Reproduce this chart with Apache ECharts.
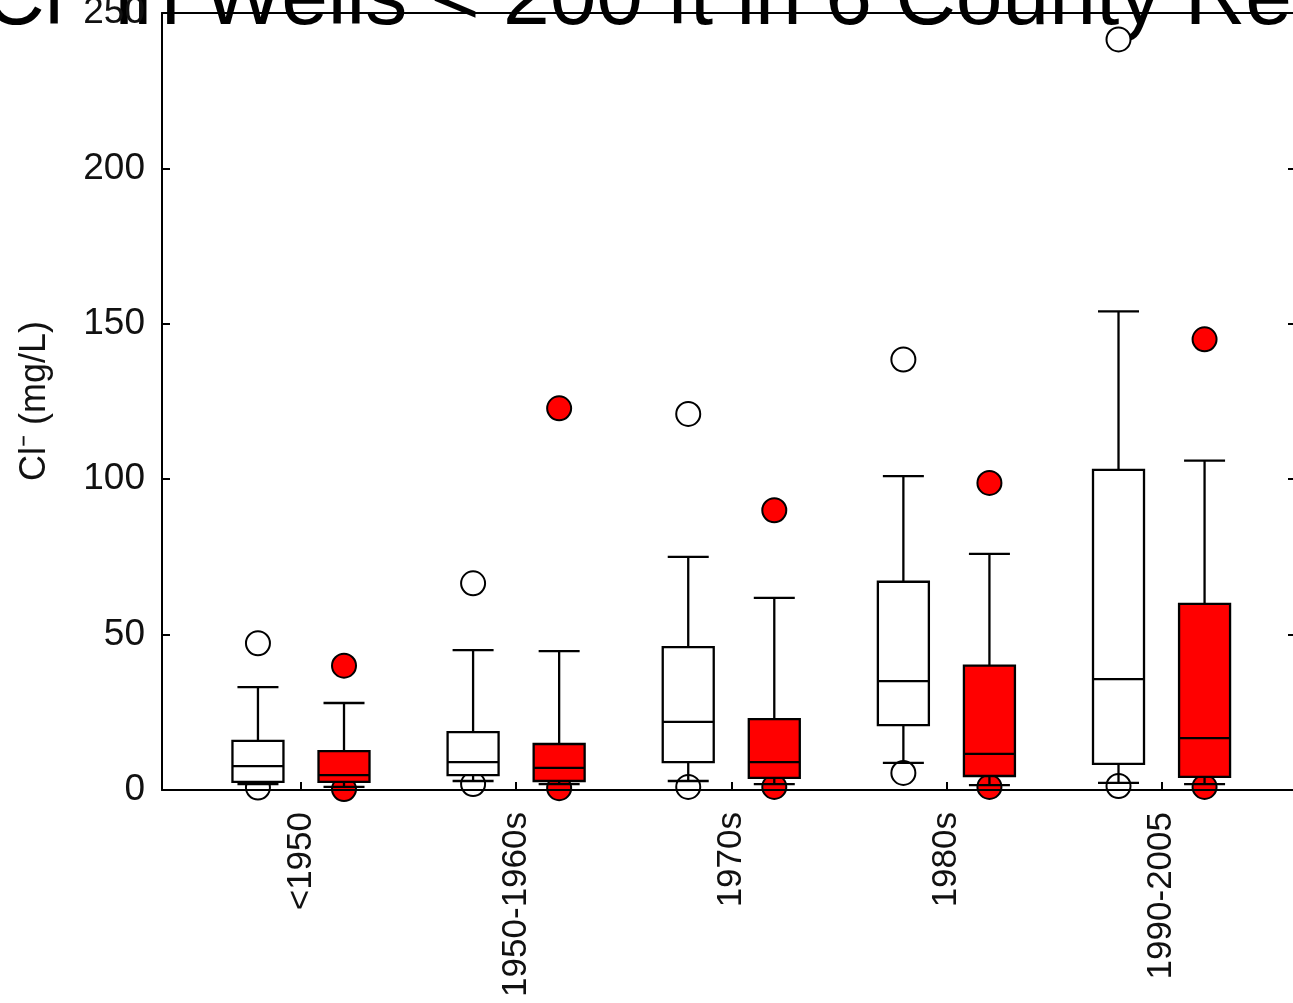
<!DOCTYPE html>
<html><head><meta charset="utf-8">
<script src="https://cdn.jsdelivr.net/npm/echarts@6/dist/echarts.min.js"></script>
<style>html,body{margin:0;padding:0;background:#fff;overflow:hidden}#c{width:1293px;height:1003px}</style>
</head><body><div id="c"></div>
<script>
const categories = ['<1950', '1950-1960s', '1970s', '1980s', '1990-2005'];
const yTicks = [0, 50, 100, 150, 200, 250];
// each box: [lower whisker, Q1, median, Q3, upper whisker]
const whiteBoxes = [
  [1.9, 2.6, 7.7, 15.8, 33.1],
  [2.9, 4.8, 9.0, 18.6, 45.0],
  [2.9, 9.0, 21.9, 46.0, 75.0],
  [8.7, 20.9, 35.0, 67.0, 101.0],
  [2.3, 8.4, 35.7, 103.0, 154.0]
];
const redBoxes = [
  [1.0, 2.6, 4.8, 12.5, 28.0],
  [1.9, 2.9, 7.1, 14.8, 44.7],
  [1.9, 3.9, 9.0, 22.8, 61.8],
  [1.6, 4.5, 11.6, 40.0, 76.0],
  [1.9, 4.2, 16.7, 59.9, 106.0]
];
const whiteOutHigh = [47.2, 66.5, 121.0, 138.5, 241.5];
const whiteOutLow = [0.8, 1.9, 1.0, 5.5, 1.3];
const redOutHigh = [40.0, 122.8, 90.0, 98.8, 145.0];
const redOutLow = [0.3, 0.6, 1.0, 1.0, 1.0];

const FONT = '"Liberation Sans", Arial, Helvetica, sans-serif';
const OFF = 0.2;
const tickPos = categories.map((c, i) => i);

function renderBox(fill) {
  return function (params, api) {
    const x = api.value(0);
    const lo = api.coord([x, api.value(1)]);
    const q1 = api.coord([x, api.value(2)]);
    const md = api.coord([x, api.value(3)]);
    const q3 = api.coord([x, api.value(4)]);
    const hi = api.coord([x, api.value(5)]);
    const cx = lo[0];
    const bw = 51, cw = 41;
    const ls = { stroke: '#000', lineWidth: 2.3 };
    return {
      type: 'group', children: [
        { type: 'line', shape: { x1: cx, y1: hi[1], x2: cx, y2: q3[1] }, style: ls },
        { type: 'line', shape: { x1: cx, y1: q1[1], x2: cx, y2: lo[1] }, style: ls },
        { type: 'line', shape: { x1: cx - cw / 2, y1: hi[1], x2: cx + cw / 2, y2: hi[1] }, style: ls },
        { type: 'line', shape: { x1: cx - cw / 2, y1: lo[1], x2: cx + cw / 2, y2: lo[1] }, style: ls },
        { type: 'rect', shape: { x: cx - bw / 2, y: q3[1], width: bw, height: q1[1] - q3[1] }, style: { fill: fill, stroke: '#000', lineWidth: 2.3 } },
        { type: 'line', shape: { x1: cx - bw / 2, y1: md[1], x2: cx + bw / 2, y2: md[1] }, style: ls }
      ]
    };
  };
}

const chart = echarts.init(document.getElementById('c'), null, { renderer: 'canvas' });
const xMin = -0.646, xMax = 4.625;
chart.setOption({
  animation: false,
  backgroundColor: '#fff',
  grid: { left: 162, top: 13, width: 1134, height: 777, containLabel: false, outerBoundsMode: 'none' },
  graphic: [
    {
      type: 'text', x: -16, y: 1, z: 0,
      style: { text: 'Cl\u207B in Wells < 200 ft in 6 County Region', fontSize: 84, fontFamily: FONT, fill: '#000', verticalAlign: 'middle', align: 'left' }
    },
    {
      type: 'text', x: 35, y: 401, rotation: Math.PI / 2, z: 0,
      style: { text: 'Cl\u207B (mg/L)', fontSize: 36, fontFamily: FONT, fill: '#111', verticalAlign: 'middle', align: 'center' }
    }
  ],
  xAxis: [
    {
      type: 'value', min: xMin, max: xMax, position: 'bottom', z: 10,
      axisLine: { show: true, onZero: false, lineStyle: { color: '#000', width: 2 } },
      splitLine: { show: false },
      axisTick: { show: true, inside: true, length: 8, customValues: tickPos, lineStyle: { color: '#000', width: 2 } },
      axisLabel: { customValues: tickPos, formatter: v => categories[Math.round(v)], rotate: 90, margin: 22, fontSize: 35, color: '#111', fontFamily: FONT }
    },
    {
      type: 'value', min: xMin, max: xMax, position: 'top', z: 10,
      axisLine: { show: true, onZero: false, lineStyle: { color: '#000', width: 2 } },
      splitLine: { show: false }, axisTick: { show: false }, axisLabel: { show: false }
    }
  ],
  yAxis: [
    {
      type: 'value', min: 0, max: 250, interval: 50, position: 'left', z: 10,
      axisLine: { show: true, onZero: false, lineStyle: { color: '#000', width: 2 } },
      splitLine: { show: false },
      axisTick: { show: true, inside: true, length: 8, lineStyle: { color: '#000', width: 2 } },
      axisLabel: { margin: 17, fontSize: 37, color: '#111', fontFamily: FONT, formatter: v => String(yTicks.includes(v) ? v : '') }
    },
    {
      type: 'value', min: 0, max: 250, interval: 50, position: 'right', z: 10,
      axisLine: { show: true, onZero: false, lineStyle: { color: '#000', width: 2 } },
      splitLine: { show: false },
      axisTick: { show: true, inside: true, length: 8, lineStyle: { color: '#000', width: 2 } },
      axisLabel: { show: false }
    }
  ],
  series: [
    {
      type: 'scatter', z: 1, clip: false, symbol: 'circle', symbolSize: 24,
      itemStyle: { color: '#fff', borderColor: '#000', borderWidth: 2, opacity: 1 },
      data: categories.flatMap((c, i) => [[i - OFF, whiteOutHigh[i]], [i - OFF, whiteOutLow[i]]])
    },
    {
      type: 'scatter', z: 1, clip: false, symbol: 'circle', symbolSize: 24,
      itemStyle: { color: '#f00', borderColor: '#000', borderWidth: 2, opacity: 1 },
      data: categories.flatMap((c, i) => [[i + OFF, redOutHigh[i]], [i + OFF, redOutLow[i]]])
    },
    {
      type: 'custom', z: 3, clip: false, renderItem: renderBox('#fff'),
      encode: { x: 0, y: [1, 2, 3, 4, 5] },
      data: categories.map((c, i) => [i - OFF].concat(whiteBoxes[i]))
    },
    {
      type: 'custom', z: 3, clip: false, renderItem: renderBox('#f00'),
      encode: { x: 0, y: [1, 2, 3, 4, 5] },
      data: categories.map((c, i) => [i + OFF].concat(redBoxes[i]))
    }
  ]
});
</script></body></html>
